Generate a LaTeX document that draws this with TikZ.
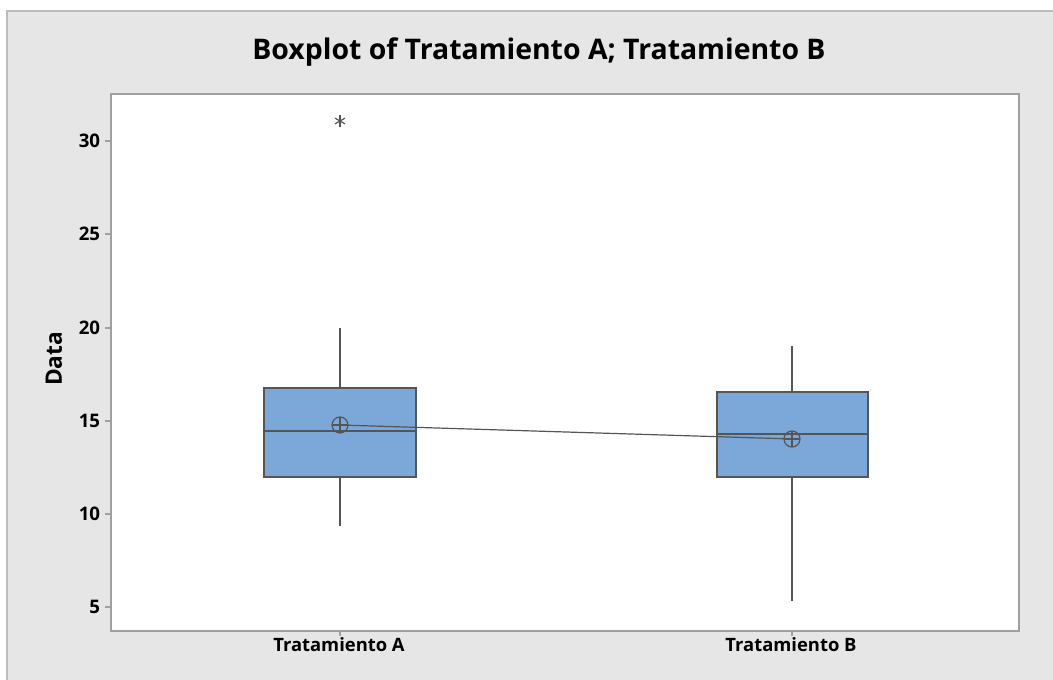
\documentclass[tikz,border=0pt]{standalone}
\usepackage{fontspec}
\setmainfont{Open Sans}
\definecolor{panelgray}{HTML}{E6E6E6}
\definecolor{framegray}{HTML}{A0A0A0}
\definecolor{boxblue}{HTML}{7BA7D9}
\definecolor{linegray}{HTML}{555555}
\tikzset{
  boxstyle/.style={draw=linegray, fill=boxblue, line width=1pt},
  whisker/.style={draw=linegray, line width=1pt},
  meanmark/.style={circle, draw=linegray, line width=0.9pt, minimum size=12pt, inner sep=0pt,
    path picture={\draw[linegray, line width=0.9pt] (path picture bounding box.north) -- (path picture bounding box.south)
      (path picture bounding box.west) -- (path picture bounding box.east);}},
  outlier/.style={minimum size=9pt, inner sep=0pt,
    path picture={\foreach \a in {90,30,150} \draw[linegray, line width=0.9pt]
      (path picture bounding box.center) ++(\a:4.3pt) -- ++(\a+180:8.6pt);}},
  ticklabel/.style={font=\bfseries\fontsize{14}{15}\selectfont, anchor=east, inner sep=2pt},
  grouplabel/.style={font=\bfseries\fontsize{13.8}{15}\selectfont, anchor=north, inner sep=0pt},
}
\begin{document}
\begin{tikzpicture}[x=0.75pt, y=-0.75pt]
  \useasboundingbox (0,0) rectangle (1053,680);
  \fill[white] (0,0) rectangle (1053,680);
  \fill[panelgray] (7,11) rectangle (1053,680);
  \draw[framegray!70, line width=1pt] (7,680) -- (7,11) -- (1053,11);
  \node (title) at (539,52) {\bfseries\fontsize{21.3}{24}\selectfont Boxplot of Tratamiento A; Tratamiento B};
  % plot area
  \fill[white] (111,94) rectangle (1019,631);
  \draw[framegray, line width=1pt] (111,94) rectangle (1019,631);
  % y axis
  \foreach \v/\y in {5/607, 10/514, 15/421, 20/328, 25/234, 30/141} {
    \draw[framegray, line width=1pt] (105,\y) -- (111,\y);
    \node[ticklabel] (tick\v) at (103,\y) {\v};
  }
  \node[rotate=90, font=\bfseries\fontsize{17}{18}\selectfont] (ylabel) at (54,359) {Data};
  % x axis
  \draw[framegray, line width=1pt] (340,631) -- (340,636);
  \draw[framegray, line width=1pt] (792,631) -- (792,636);
  \node[grouplabel] (labA) at (339,637) {Tratamiento A};
  \node[grouplabel] (labB) at (791,637) {Tratamiento B};
  % Tratamiento A
  \coordinate (topA) at (340,328);
  \coordinate (botA) at (340,526);
  \draw[whisker] (topA) -- (340,388);
  \draw[whisker] (botA) -- (340,477);
  \draw[boxstyle] (264,388) rectangle (416,477);
  \draw[whisker] (264,431) -- (416,431);
  \node[outlier] (outA) at (340,121) {};
  % Tratamiento B
  \coordinate (topB) at (792,346);
  \coordinate (botB) at (792,601);
  \draw[whisker] (topB) -- (792,392);
  \draw[whisker] (botB) -- (792,477);
  \draw[boxstyle] (717,392) rectangle (868,477);
  \draw[whisker] (717,434) -- (868,434);
  % means
  \node[meanmark] (meanA) at (340,425) {};
  \node[meanmark] (meanB) at (792,439) {};
  \draw[linegray, line width=0.9pt] (meanA.center) -- (meanB.center);
\end{tikzpicture}
\end{document}
